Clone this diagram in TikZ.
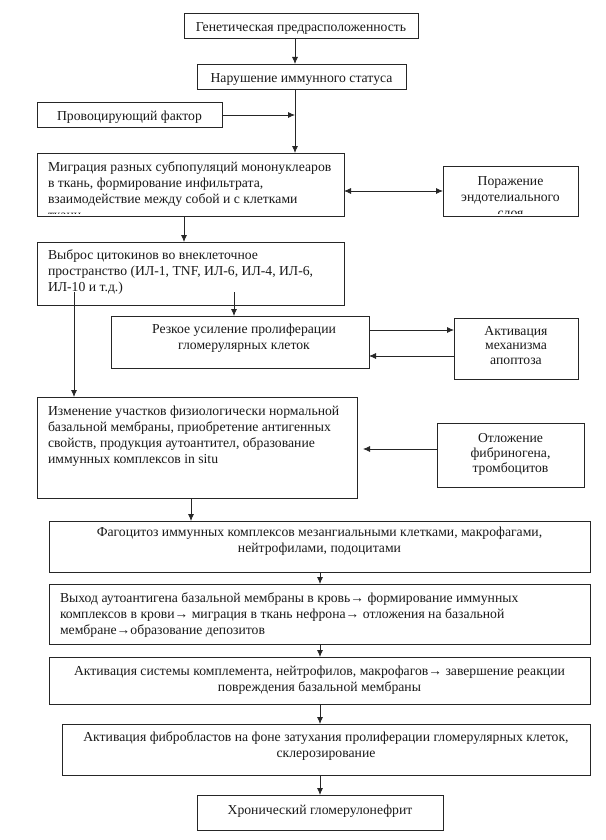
\documentclass[tikz,border=0pt]{standalone}
\usepackage{fontspec}
\setmainfont{Liberation Serif}
\usetikzlibrary{arrows.meta,calc}
\begin{document}
\begin{tikzpicture}[x=1pt,y=-1pt,
  box/.style={draw=black!85, line width=0.8pt, rectangle, inner sep=0pt, outer sep=0pt, anchor=north west},
  txt/.style={inner sep=0pt, outer sep=0pt, font=\fontsize{13.7}{16}\selectfont, text=black!90},
  txtl/.style={txt, align=left, anchor=north west},
  txtc/.style={txt, align=center, anchor=north},
  arr/.style={-{Latex[length=7pt,width=6pt]}, line width=0.8pt, draw=black!85},
  darr/.style={{Latex[length=7pt,width=6pt]}-{Latex[length=7pt,width=6pt]}, line width=0.8pt, draw=black!85}]
\useasboundingbox (0,0) rectangle (605,840);
% boxes
\node[box, minimum width=234pt, minimum height=25pt] (gen) at (184,13) {};
\node[box, minimum width=209pt, minimum height=25pt] (nar) at (197,64) {};
\node[box, minimum width=185pt, minimum height=25pt] (prov) at (37,102) {};
\node[box, minimum width=307pt, minimum height=63pt] (mig) at (37,153) {};
\node[box, minimum width=135pt, minimum height=50pt] (por) at (443,166) {};
\node[box, minimum width=307pt, minimum height=63pt] (vyb) at (37,242) {};
\node[box, minimum width=258pt, minimum height=52pt] (rez) at (111,316) {};
\node[box, minimum width=124pt, minimum height=61pt] (apo) at (454,318) {};
\node[box, minimum width=320pt, minimum height=101pt] (izm) at (37,397) {};
\node[box, minimum width=147pt, minimum height=64pt] (otl) at (437,423) {};
\node[box, minimum width=541pt, minimum height=51pt] (fag) at (49,521) {};
\node[box, minimum width=541pt, minimum height=60pt] (vyh) at (49,584) {};
\node[box, minimum width=541pt, minimum height=47pt] (kom) at (49,657) {};
\node[box, minimum width=528pt, minimum height=51pt] (fib) at (62,724) {};
\node[box, minimum width=246pt, minimum height=35pt] (hr) at (197,795) {};
% texts
\node[txtc] (gen-t) at ($(gen.north)+(0,7)$) {\strut Генетическая предрасположенность};
\node[txtc] (nar-t) at ($(nar.north)+(0,7)$) {\strut Нарушение иммунного статуса};
\node[txtc] (prov-t) at ($(prov.north)+(0,7)$) {\strut Провоцирующий фактор};
\begin{scope}
\clip ($(mig.north west)+(0,0)$) rectangle ($(mig.south east)+(0,-3)$);
\node[txtl] (mig-t) at ($(mig.north west)+(11,7)$) {\strut Миграция разных субпопуляций мононуклеаров\\в ткань, формирование инфильтрата,\\взаимодействие между собой и с клетками\\ткани};
\end{scope}
\begin{scope}
\clip ($(por.north west)+(0,0)$) rectangle ($(por.south east)+(0,-3)$);
\node[txtc] (por-t) at ($(por.north)+(0,8)$) {\strut Поражение\\эндотелиального\\слоя};
\end{scope}
\node[txtl] (vyb-t) at ($(vyb.north west)+(11,6)$) {\strut Выброс цитокинов во внеклеточное\\пространство (ИЛ-1, TNF, ИЛ-6, ИЛ-4, ИЛ-6,\\ИЛ-10 и т.д.)};
\node[txtc] (rez-t) at ($(rez.north)+(4,6)$) {\strut Резкое усиление пролиферации\\гломерулярных клеток};
\node[txtc, font=\fontsize{13.7}{14.5}\selectfont] (apo-t) at ($(apo.north)+(0,7)$) {\strut Активация\\механизма\\апоптоза};
\node[txtl] (izm-t) at ($(izm.north west)+(11,7)$) {\strut Изменение участков физиологически нормальной\\базальной мембраны, приобретение антигенных\\свойств, продукция аутоантител, образование\\иммунных комплексов in situ};
\node[txtc, font=\fontsize{13.7}{15}\selectfont] (otl-t) at ($(otl.north)+(0,9)$) {\strut Отложение\\фибриногена,\\тромбоцитов};
\node[txtc] (fag-t) at ($(fag.north)+(0,4)$) {\strut Фагоцитоз иммунных комплексов мезангиальными клетками, макрофагами,\\нейтрофилами, подоцитами};
\node[txtl] (vyh-t) at ($(vyh.north west)+(11,7)$) {\strut Выход аутоантигена базальной мембраны в кровь→ формирование иммунных\\комплексов в крови→ миграция в ткань нефрона→ отложения на базальной\\мембране→образование депозитов};
\node[txtc] (kom-t) at ($(kom.north)+(0,7)$) {\strut Активация системы комплемента, нейтрофилов, макрофагов→ завершение реакции\\повреждения базальной мембраны};
\node[txtc] (fib-t) at ($(fib.north)+(0,6)$) {\strut Активация фибробластов на фоне затухания пролиферации гломерулярных клеток,\\склерозирование};
\node[txtc] (hr-t) at ($(hr.north)+(0,8)$) {\strut Хронический гломерулонефрит};
% helper coordinates
\coordinate (xa) at (295,0);
\coordinate (xb) at (184,0);
\coordinate (xc) at (191,0);
\coordinate (xd) at (320,0);
\coordinate (ya) at (0,115);
\coordinate (yb) at (0,191);
\coordinate (yc) at (0,330);
\coordinate (yd) at (0,356);
\coordinate (ye) at (0,449);
\coordinate (v1) at (74,292);
\coordinate (v2) at (234,292);
% connectors
\draw[arr] (gen.south -| xa) -- (nar.north -| xa);
\draw[line width=0.8pt, draw=black!85] (nar.south -| xa) -- (ya -| xa);
\draw[arr] (ya -| xa) -- (mig.north -| xa);
\draw[arr] (prov.east |- ya) -- (ya -| xa);
\draw[arr] (mig.south -| xb) -- (vyb.north -| xb);
\draw[darr] (mig.east |- yb) -- (por.west |- yb);
\draw[arr] (v2) -- (rez.north -| v2);
\draw[arr] (v1) -- (izm.north -| v1);
\draw[arr] (rez.east |- yc) -- (apo.west |- yc);
\draw[arr] (apo.west |- yd) -- (rez.east |- yd);
\draw[arr, shorten >=6pt] (otl.west |- ye) -- (izm.east |- ye);
\draw[arr] (izm.south -| xc) -- (fag.north -| xc);
\draw[arr] (fag.south -| xd) -- (vyh.north -| xd);
\draw[arr] (vyh.south -| xd) -- (kom.north -| xd);
\draw[arr] (kom.south -| xd) -- (fib.north -| xd);
\draw[arr] (fib.south -| xd) -- (hr.north -| xd);
\end{tikzpicture}
\end{document}
